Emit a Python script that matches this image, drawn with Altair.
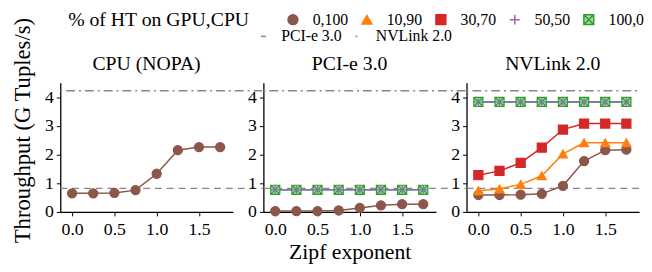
import altair as alt
import pandas as pd

zipf = [0.0, 0.25, 0.5, 0.75, 1.0, 1.25, 1.5, 1.75]
panels = ["CPU (NOPA)", "PCI-e 3.0", "NVLink 2.0"]
series_names = ["0,100", "10,90", "30,70", "50,50", "100,0"]
series_stroke = ["#8c564b", "#ff7f0e", "#d62728", "#9467bd", "#2ca02c"]
series_fill = ["#8c564b", "#ff7f0e", "#d62728", "transparent", "#a6dba0"]
series_shape = ["circle", "triangle-up", "square",
                "M-1,0H1M0,-1V1",
                "M-1,-1H1V1H-1ZM-1,-1L1,1M1,-1L-1,1"]

cpu_0_100 = [0.65, 0.65, 0.66, 0.76, 1.33, 2.15, 2.26, 2.26]
pcie_0_100 = [0.03, 0.03, 0.03, 0.05, 0.14, 0.23, 0.27, 0.27]
pcie_50_50 = [0.77, 0.77, 0.77, 0.77, 0.77, 0.77, 0.77, 0.77]
pcie_100_0 = [0.77, 0.77, 0.77, 0.77, 0.77, 0.77, 0.77, 0.77]
nv_0_100 = [0.59, 0.59, 0.60, 0.63, 0.91, 1.77, 2.15, 2.17]
nv_10_90 = [0.74, 0.80, 0.96, 1.26, 2.02, 2.41, 2.41, 2.41]
nv_30_70 = [1.28, 1.43, 1.71, 2.24, 2.87, 3.08, 3.08, 3.08]
nv_50_50 = [3.83, 3.83, 3.83, 3.83, 3.83, 3.83, 3.83, 3.83]
nv_100_0 = [3.83, 3.83, 3.83, 3.83, 3.83, 3.83, 3.83, 3.83]

link_names = ["PCI-e 3.0", "NVLink 2.0"]
link_values = [0.82, 4.22]
y_ticks = [0, 1, 2, 3, 4]
x_ticks = [0.0, 0.5, 1.0, 1.5]

panel_series = {
    "CPU (NOPA)": [("0,100", cpu_0_100)],
    "PCI-e 3.0": [("0,100", pcie_0_100), ("100,0", pcie_100_0), ("50,50", pcie_50_50)],
    "NVLink 2.0": [("0,100", nv_0_100), ("10,90", nv_10_90), ("30,70", nv_30_70),
                   ("100,0", nv_100_0), ("50,50", nv_50_50)],
}

rows = []
for p, lst in panel_series.items():
    for s, vals in lst:
        for x, v in zip(zipf, vals):
            rows.append({"panel": p, "series": s, "x": x, "y": v})
df = pd.DataFrame(rows)
rules_df = pd.DataFrame({"link": link_names, "value": link_values})

W, H, GAP = 175, 131, 31
FONT = "Liberation Serif"

yscale = alt.Scale(domain=[0, 4.5], nice=False, zero=True)
xscale = alt.Scale(domain=[-0.14, 1.9], nice=False, zero=False)

sym_legend = alt.Legend(
    orient="none", legendX=8, legendY=-72, direction="horizontal",
    title="% of HT on GPU,CPU", titleOrient="left", titleFontSize=20,
    titleFont=FONT, titleFontWeight="normal", titlePadding=36, titleLimit=400,
    titleColor="black",
    labelFontSize=16, labelFont=FONT, labelColor="black", symbolSize=100, symbolStrokeWidth=1.5,
    labelOffset=12, columnPadding=11, labelLimit=200,
)
dash_legend = alt.Legend(
    orient="none", legendX=198, legendY=-55, direction="horizontal",
    title=None, symbolType="stroke", symbolSize=25, symbolStrokeColor="#888888",
    symbolStrokeWidth=1.5, labelFontSize=16, labelFont=FONT, labelColor="black",
    labelOffset=10, columnPadding=8, labelLimit=200,
)

stroke_enc = alt.Stroke("series:N", scale=alt.Scale(domain=series_names, range=series_stroke), legend=sym_legend)
fill_enc = alt.Fill("series:N", scale=alt.Scale(domain=series_names, range=series_fill), legend=sym_legend)
shape_enc = alt.Shape("series:N", scale=alt.Scale(domain=series_names, range=series_shape), legend=sym_legend)


def y_enc(field, title):
    ax = alt.Axis(values=y_ticks, format="d", labelFontSize=18, labelFont=FONT,
                  tickSize=4, labelPadding=3, domainColor="black", tickColor="black",
                  domainWidth=1.3, grid=False, labelColor="black",
                  titleFontSize=23, titleFont=FONT, titleFontWeight="normal",
                  titleColor="black", titleX=-26, titleY=48)
    if title:
        return alt.Y(field, scale=yscale, axis=ax, title=title)
    return alt.Y(field, scale=yscale, axis=ax, title=None)


def x_enc(title):
    ax = alt.Axis(values=x_ticks, format=".1f", labelFontSize=18, labelFont=FONT,
                  tickSize=4, labelPadding=5, domainColor="black", tickColor="black",
                  domainWidth=1.3, grid=False, labelColor="black",
                  titleFontSize=22, titleFont=FONT, titleFontWeight="normal",
                  titleColor="black", titlePadding=3)
    if title:
        return alt.X("x:Q", scale=xscale, axis=ax, title=title)
    return alt.X("x:Q", scale=xscale, axis=ax, title=None)


def panel(name, ytitle, xtitle, last=False):
    data = df[df.panel == name]
    rules = alt.Chart(rules_df).mark_rule(color="#888888", strokeWidth=1.4).encode(
        y=y_enc("value:Q", ytitle),
        x=alt.value(0), x2=alt.value(W if last else W + GAP),
        strokeDash=alt.StrokeDash("link:N", scale=alt.Scale(domain=link_names, range=[[7, 5], [2, 4, 9, 4]]),
                                  legend=dash_legend),
    )
    lines = alt.Chart(data).mark_line(strokeWidth=1.5).encode(
        x=x_enc(xtitle), y=y_enc("y:Q", ytitle), stroke=stroke_enc,
    )
    pts = alt.Chart(data).mark_point(size=85, opacity=1, strokeWidth=1.2).encode(
        x=x_enc(xtitle), y=y_enc("y:Q", ytitle), stroke=stroke_enc, fill=fill_enc, shape=shape_enc,
    )
    ttl = alt.Chart(pd.DataFrame({"t": [name]})).mark_text(
        fontSize=20, font=FONT, baseline="alphabetic", align="center", color="black"
    ).encode(text="t:N", x=alt.value(W / 2), y=alt.value(-13))
    return alt.layer(rules, lines, pts, ttl).properties(width=W, height=H)


chart = alt.hconcat(
    panel(panels[0], "Throughput (G Tuples/s)", None),
    panel(panels[1], None, "Zipf exponent"),
    panel(panels[2], None, None, last=True),
    spacing=GAP, bounds="flush",
).properties(padding={"left": 3, "top": 2, "right": 0, "bottom": 0}).configure(
    font=FONT
).configure_view(stroke=None)

chart.save("out.html", embed_options={"renderer": "svg", "actions": False})
